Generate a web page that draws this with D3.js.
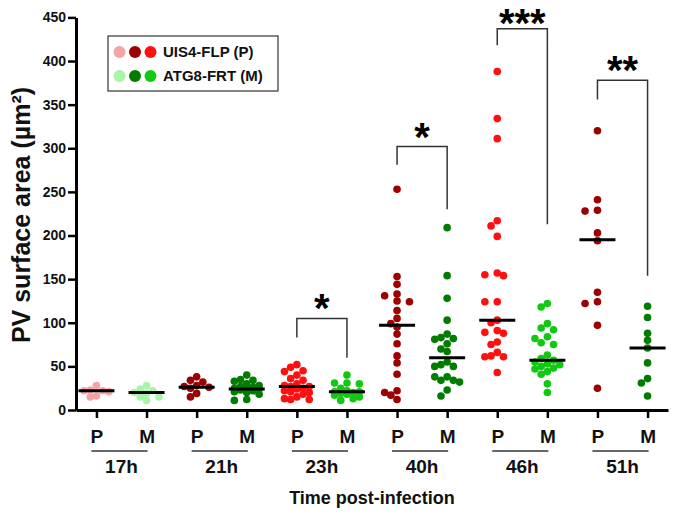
<!DOCTYPE html>
<html>
<head>
<meta charset="utf-8">
<script src="https://cdn.jsdelivr.net/npm/d3@7/dist/d3.min.js"></script>
<style>
  html, body { margin: 0; padding: 0; background: #ffffff; }
  svg { display: block; font-family: "Liberation Sans", Arial, sans-serif; }
</style>
</head>
<body>
<svg id="chart" width="680" height="516"></svg>
<script>
// ---------------- DATA ----------------
const timepoints = ["17h", "21h", "23h", "40h", "46h", "51h"];
const strains = ["P", "M"];
const yTicks = [0, 50, 100, 150, 200, 250, 300, 350, 400, 450];

const p17 = [22, 23, 21, 28, 15, 16, 22];
const m17 = [28, 22, 20, 19, 15, 11, 15, 24];
const p21 = [34, 38, 32, 27, 25, 15, 19, 26, 28];
const m21 = [40, 35, 34, 30, 28, 26, 24, 24, 23, 22, 20, 18, 12, 11, 25, 27, 33, 21];
const p23 = [49, 52, 45, 44, 40, 36, 34, 30, 28, 27, 27, 25, 24, 22, 21, 20, 18, 13, 12, 12, 15];
const m23 = [40, 31, 31, 30, 25, 22, 21, 21, 20, 18, 17, 15, 11, 13, 19];
const p40 = [253, 153, 144, 133, 131, 124, 125, 114, 105, 95, 99, 87, 76, 54, 62, 41, 20, 22, 17, 12];
const m40 = [209, 154, 128, 103, 83, 82, 87, 81, 76, 70, 67, 52, 50, 55, 50, 38, 34, 32, 38, 34, 23, 16];
const p46 = [388, 334, 311, 217, 211, 199, 155, 154, 157, 124, 124, 103, 100, 89, 91, 88, 78, 75, 66, 61, 61, 62, 43];
const m46 = [122, 118, 99, 92, 94, 84, 82, 77, 75, 59, 63, 55, 57, 48, 52, 50, 47, 44, 41, 30, 20, 53];
const p51 = [320, 241, 228, 229, 203, 194, 135, 122, 124, 97, 25];
const m51 = [119, 106, 88, 80, 71, 54, 36, 31, 16];

const groupValues = [p17, m17, p21, m21, p23, m23, p40, m40, p46, m46, p51, m51];
const medians = [22, 20, 26, 24, 27, 21, 97, 60, 103, 57, 195, 71];
const groupColors = ["#f4a3a6", "#a8f4a8", "#9c0000", "#007d00", "#ff1010", "#12c812",
                     "#9c0000", "#007d00", "#ff1010", "#12c812", "#9c0000", "#007d00"];

// significance brackets: timepoint, top level, left end, right end, label
const bracketTimes = ["23h", "40h", "46h", "51h"];
const bracketTop = [105, 302, 437, 378];
const bracketLeft = [83, 281, 418, 356];
const bracketRight = [60, 230, 213, 154];
const bracketStars = ["*", "*", "***", "**"];

const legendLabels = ["UIS4-FLP (P)", "ATG8-FRT (M)"];
const legendColors = [["#f4a3a6", "#9c0000", "#ff1010"], ["#a8f4a8", "#007d00", "#12c812"]];

// ---------------- CHART ----------------
const svg = d3.select("#chart");
const keys = [];
timepoints.forEach(t => strains.forEach(s => keys.push(t + "-" + s)));

const x = d3.scalePoint().domain(keys).range([76, 668]).padding(0.408);
const y = d3.scaleLinear().domain([0, 450]).range([410, 17.4]);

const R = 3.8;

// Beeswarm-like layout computed from values (limited width, overlap allowed when crowded)
function swarm(values, cx) {
  const placed = [];
  const sorted = values.slice().sort((a, b) => b - a);
  const step = 6.2;
  const cands = [0, -step, step, -2 * step, 2 * step];
  sorted.forEach(v => {
    const py = y(v);
    let best = null, bestD = -1;
    for (const c of cands) {
      const px = cx + c;
      const dmin = placed.length ? d3.min(placed, p => Math.hypot(p.x - px, p.y - py)) : Infinity;
      if (dmin >= 2 * R - 1) { best = px; break; }
      if (dmin > bestD) { bestD = dmin; best = px; }
    }
    placed.push({ x: best, y: py });
  });
  return placed;
}

// points
groupValues.forEach((vals, i) => {
  const pts = swarm(vals, x(keys[i]));
  svg.append("g").selectAll("circle").data(pts).join("circle")
    .attr("cx", d => d.x).attr("cy", d => d.y).attr("r", R)
    .attr("fill", groupColors[i]);
});

// median lines
svg.append("g").selectAll("line").data(medians).join("line")
  .attr("x1", (d, i) => x(keys[i]) - 18).attr("x2", (d, i) => x(keys[i]) + 18)
  .attr("y1", d => y(d)).attr("y2", d => y(d))
  .attr("stroke", "#000").attr("stroke-width", 3);

// y axis
const yAxis = svg.append("g").attr("transform", "translate(76,0)")
  .call(d3.axisLeft(y).tickValues(yTicks).tickSize(8).tickSizeOuter(0).tickPadding(2));
yAxis.select(".domain").attr("stroke", "#000").attr("stroke-width", 3);
yAxis.selectAll(".tick line").attr("stroke", "#000").attr("stroke-width", 2.5);
yAxis.selectAll(".tick text").attr("font-size", 14).attr("font-weight", "bold")
  .attr("fill", "#111").attr("font-family", "Liberation Sans, Arial, sans-serif");

// x axis
const xAxis = svg.append("g").attr("transform", "translate(0,410)")
  .call(d3.axisBottom(x).tickSize(8).tickSizeOuter(0).tickPadding(12)
    .tickFormat(d => d.split("-")[1]));
xAxis.select(".domain").attr("stroke", "#000").attr("stroke-width", 3);
xAxis.selectAll(".tick line").attr("stroke", "#000").attr("stroke-width", 2.5);
xAxis.selectAll(".tick text").attr("font-size", 19).attr("font-weight", "bold")
  .attr("fill", "#111").attr("font-family", "Liberation Sans, Arial, sans-serif");

// timepoint underlines + labels
timepoints.forEach(t => {
  const xp = x(t + "-P"), xm = x(t + "-M");
  svg.append("line").attr("x1", xp - 5).attr("x2", xm + 1)
    .attr("y1", 451).attr("y2", 451).attr("stroke", "#333").attr("stroke-width", 1.5);
  svg.append("text").attr("x", (xp + xm) / 2).attr("y", 473)
    .attr("text-anchor", "middle").attr("font-size", 19).attr("font-weight", "bold")
    .attr("fill", "#111").text(t);
});

// axis titles
svg.append("text").attr("x", 372).attr("y", 504).attr("text-anchor", "middle")
  .attr("font-size", 18).attr("font-weight", "bold").attr("fill", "#111")
  .text("Time post-infection");

svg.append("text").attr("transform", "translate(30,215) rotate(-90)")
  .attr("text-anchor", "middle").attr("font-size", 25).attr("font-weight", "bold")
  .attr("fill", "#111")
  .text("PV surface area (µm²)");

// brackets
bracketTimes.forEach((t, i) => {
  const xp = x(t + "-P"), xm = x(t + "-M");
  const path = d3.path();
  path.moveTo(xp, y(bracketLeft[i]));
  path.lineTo(xp, y(bracketTop[i]));
  path.lineTo(xm, y(bracketTop[i]));
  path.lineTo(xm, y(bracketRight[i]));
  svg.append("path").attr("d", path.toString()).attr("fill", "none")
    .attr("stroke", "#333").attr("stroke-width", 1.5);
  svg.append("text").attr("x", (xp + xm) / 2)
    .attr("y", Math.max(y(bracketTop[i]) + 4, 37))
    .attr("text-anchor", "middle").attr("font-size", 40).attr("font-weight", "bold")
    .attr("fill", "#000").text(bracketStars[i]);
});

// legend
const lg = svg.append("g").attr("transform", "translate(108,36)");
lg.append("rect").attr("width", 170).attr("height", 55)
  .attr("fill", "#fff").attr("stroke", "#333").attr("stroke-width", 1.2);
legendLabels.forEach((lab, r) => {
  const row = lg.append("g").attr("transform", `translate(0,${16 + r * 24})`);
  legendColors[r].forEach((c, k) => {
    row.append("circle").attr("cx", 11.5 + k * 15.5).attr("cy", 0).attr("r", 6).attr("fill", c);
  });
  row.append("text").attr("x", 55).attr("y", 5).attr("font-size", 15)
    .attr("font-weight", "bold").attr("fill", "#111").text(lab);
});
</script>
</body>
</html>
